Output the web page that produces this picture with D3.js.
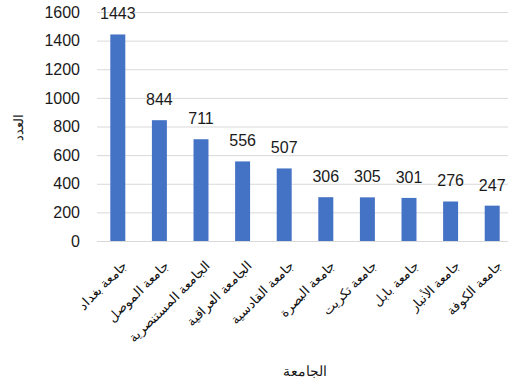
<!DOCTYPE html>
<html><head><meta charset="utf-8">
<script src="https://cdn.jsdelivr.net/npm/d3@7"></script>
<style>body{margin:0;background:#fff}svg{display:block}</style>
</head><body>
<svg id="c" width="508" height="386"></svg>
<script>
const categories = ["جامعة بغداد","جامعة الموصل","الجامعة المستنصرية","الجامعة العراقية","جامعة القادسية","جامعة البصرة","جامعة تكريت","جامعة بابل","جامعة الأنبار","جامعة الكوفة"];
const values = [1443,844,711,556,507,306,305,301,276,247];
const yTicks = [0,200,400,600,800,1000,1200,1400,1600];
const xTitle = "الجامعة";
const yTitle = "العدد";

const svg = d3.select("#c");
const font = "'Liberation Sans', Arial, sans-serif";
const x = d3.scaleBand().domain(categories).range([97,513]).paddingInner(0.64).paddingOuter(0.32);
const y = d3.scaleLinear().domain([0,1600]).range([241,12]);

svg.append("g").selectAll("line").data(yTicks).join("line")
  .attr("x1",97).attr("x2",513).attr("y1",d=>y(d)+0.5).attr("y2",d=>y(d)+0.5)
  .attr("stroke","#d9d9d9").attr("stroke-width",1);

const ya = svg.append("g").attr("transform","translate(97,0)")
  .call(d3.axisLeft(y).tickValues(yTicks).tickFormat(d3.format("d")).tickSize(0).tickPadding(17));
ya.select(".domain").remove();
ya.selectAll("text").attr("font-family",font).attr("font-size",16).attr("fill","#1a1a1a");

svg.append("g").selectAll("rect").data(values).join("rect")
  .attr("x",(d,i)=>x(categories[i])).attr("width",x.bandwidth())
  .attr("y",d=>y(d)).attr("height",d=>y(0)-y(d)).attr("fill","#4472C4");

svg.append("g").selectAll("text").data(values).join("text")
  .attr("x",(d,i)=>x(categories[i])+x.bandwidth()/2).attr("y",d=>y(d)-15)
  .attr("text-anchor","middle").attr("font-family",font).attr("font-size",16).attr("fill","#1a1a1a")
  .text(d=>d);

svg.append("g").selectAll("text").data(categories).join("text")
  .attr("transform",d=>`translate(${x(d)+x.bandwidth()/2+7},263) rotate(-45)`)
  .attr("text-anchor","end").attr("dy","0.35em")
  .attr("font-family",font).attr("font-size",13).attr("fill","#111")
  .text(d=>d);

svg.append("text").attr("x",305).attr("y",376).attr("text-anchor","middle")
  .attr("font-family",font).attr("font-size",14).attr("fill","#1a1a1a").text(xTitle);
svg.append("text").attr("transform","translate(23,127) rotate(-90)").attr("text-anchor","middle")
  .attr("font-family",font).attr("font-size",12.5).attr("fill","#1a1a1a").text(yTitle);
</script>
</body></html>
